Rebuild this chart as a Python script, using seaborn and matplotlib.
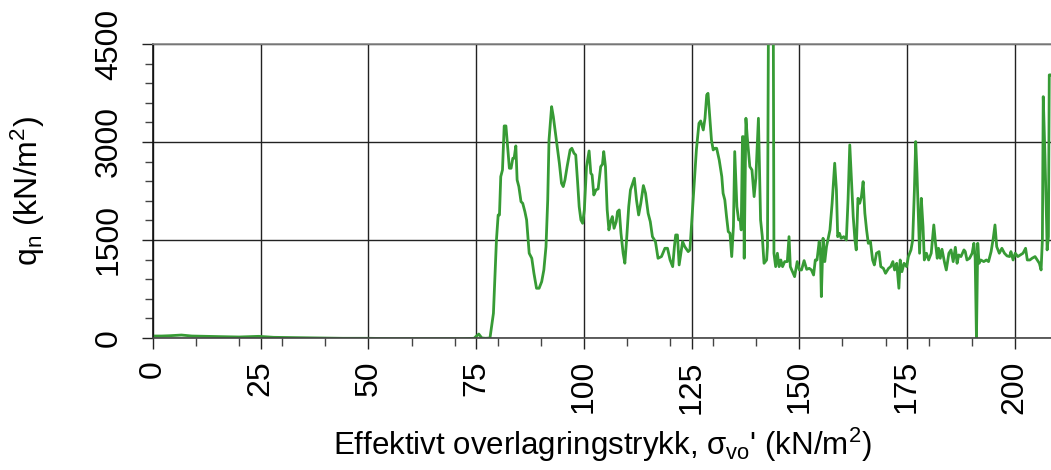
import matplotlib
matplotlib.use('agg')
import matplotlib.pyplot as plt
import seaborn as sns
import pandas as pd
from matplotlib.ticker import MultipleLocator

# effective overburden stress (kN/m2) and net cone resistance q_n (kN/m2)
sigma = [0, 2, 4, 6.6, 9, 12, 16, 20, 24.5, 28, 33, 38, 44, 50, 56, 62, 68, 72, 74.5,
         75.6, 76.3, 77.2, 78.2, 79.0, 79.7, 80.1, 80.4, 80.7, 81.1, 81.5, 81.9,
         82.7, 83.1, 83.5, 83.8, 84.2, 84.5, 84.9, 85.4, 85.8, 86.3, 86.7, 87.3,
         87.9, 88.4, 89.0, 89.6, 90.2, 90.7, 91.2, 91.6, 91.9, 92.5, 92.9, 93.7,
         94.3, 94.8, 95.2, 95.6, 96.1, 96.8, 97.2, 97.7, 98.1, 98.5, 98.9, 99.3,
         99.7, 100.1, 100.6, 101.2, 101.6, 101.9, 102.3, 102.8, 103.3, 103.9,
         104.3, 104.6, 105.0, 105.4, 105.8, 106.2, 106.6, 107.0, 107.5, 107.8,
         108.2, 108.6, 109.1, 109.5, 109.9, 110.4, 110.8, 111.3, 111.7, 112.2,
         112.7, 113.2, 113.8, 114.3, 114.9, 115.4, 115.9, 116.6, 117.2, 118.0,
         118.8, 119.4, 120.0, 120.6, 121.0, 121.3, 121.7, 122.1, 122.5, 122.9,
         123.4, 124.2, 124.6, 124.9, 125.5, 126.1, 126.7, 127.1, 127.7, 128.1,
         128.5, 128.8, 129.2, 129.6, 130.0, 130.4, 130.8, 131.4, 132.0, 132.3,
         132.7, 133.1, 133.5, 133.9, 134.3, 134.7, 135.0, 135.5, 135.9, 136.3,
         136.5, 136.8, 137.0, 137.2, 137.6, 137.9, 138.5, 139.0, 139.5, 139.9,
         140.5, 141.0, 141.4, 141.8, 142.4, 142.6, 142.9, 143.9, 144.1, 144.5,
         144.9, 145.3, 145.7, 146.1, 146.6, 147.2, 147.6, 147.9, 148.4, 148.9,
         149.5, 150.0, 150.5, 151.1, 151.7, 152.3, 152.8, 153.3, 153.7, 154.1,
         154.6, 154.9, 155.1, 155.5, 155.9, 156.3, 157.1, 157.6, 158.2, 158.6,
         158.9, 159.3, 159.7, 160.3, 160.9, 161.3, 161.7, 162.1, 162.5, 162.9,
         163.2, 163.6, 164.0, 164.4, 164.8, 165.2, 165.6, 166.0, 166.5, 167.0,
         167.4, 167.9, 168.5, 168.9, 169.5, 170.0, 170.7, 171.2, 171.7, 172.1,
         172.6, 173.1, 173.4, 173.8, 174.3, 174.9, 175.3, 175.9, 176.3, 176.7,
         177.0, 177.3, 177.7, 177.9, 178.3, 178.7, 179.0, 179.5, 180.0, 180.6,
         181.2, 181.6, 182.0, 182.3, 182.7, 183.1, 183.7, 184.1, 184.7, 185.2,
         185.7, 186.2, 186.6, 187.0, 187.5, 188.2, 188.5, 188.9, 189.5, 190.1,
         190.5, 190.8, 191.1, 191.4, 191.7, 192.1, 192.8, 193.4, 193.9, 194.5,
         195.0, 195.4, 195.8, 196.4, 197.0, 197.6, 198.2, 198.8, 199.1, 199.6,
         200.1, 200.7, 201.3, 201.9, 202.5, 202.9, 203.5, 204.0, 204.7, 205.2,
         205.7, 206.1, 206.4, 206.6, 207.0, 207.4, 207.5, 207.8, 208.0, 208.4]
qn = [30, 30, 35, 45, 30, 25, 20, 15, 25, 10, 5, 0, -5, -5, -10, -10, -10, -10, -5,
      60, 0, -5, 0, 378, 1500, 1883, 1883, 2470, 2572, 3246, 3246,
      2598, 2598, 2751, 2751, 2940, 2419, 2317, 2087, 2061, 1934, 1807, 1297,
      1220, 990, 761, 761, 862, 1041, 1398, 2113, 3031, 3541, 3388, 2981,
      2675, 2368, 2317, 2419, 2623, 2878, 2904, 2828, 2802, 2419, 2010, 1807,
      1756, 1960, 2623, 2863, 2521, 2496, 2189, 2266, 2282, 2623,
      2658, 2853, 2623, 1960, 1654, 1781, 1858, 1679, 1781, 1934,
      1960, 1603, 1297, 1144, 1500, 2010, 2266, 2368, 2445, 2113,
      1883, 2061, 2333, 2215, 1909, 1781, 1551, 1475, 1220, 1246,
      1373, 1373, 1194, 1092, 1398, 1577, 1577, 1118, 1297, 1475,
      1398, 1322, 1348, 1654, 2266, 2878, 3286, 3322, 3184, 3363,
      3720, 3745, 3388, 3031, 2878, 2904, 2904, 2725, 2470, 2215,
      2113, 1858, 1628, 1603, 1246, 1704, 2853, 2010, 1807, 1807,
      1654, 3082, 3082, 1220, 3363, 3082, 2623, 2572, 2164, 2445,
      3363, 1807, 1551, 1143, 1194, 1398, 6000, 6000, 1297, 1092,
      1297, 1092, 1194, 1092, 1169, 1169, 1551, 1092, 1015, 939,
      1169, 1041, 1041, 1184, 1051, 1066, 1041, 964, 1194, 1194,
      1475, 1297, 633, 1526, 1169, 1398, 1654, 2062, 2675, 2266,
      1551, 1603, 1526, 1551, 1500, 2113, 2955, 2419, 1858, 1500,
      1348, 2138, 2062, 2164, 2393, 1909, 1654, 1449, 1475, 1194,
      1118, 1297, 1322, 1092, 1066, 990, 1066, 1092, 1169, 1041,
      1143, 761, 1194, 1015, 1143, 1092, 1246, 1348, 1500, 2266,
      3006, 2521, 1704, 1297, 2138, 1704, 1194, 1297, 1194, 1297,
      1730, 1449, 1220, 1373, 1220, 1358, 1153, 1041, 1297, 1348,
      1169, 1388, 1143, 1271, 1246, 1348, 1322, 1194, 1220, 1297,
      1449, 1220, 0, 1449, 1143, 1194, 1169, 1194, 1169, 1322,
      1526, 1730, 1398, 1297, 1373, 1297, 1256, 1246, 1322, 1194,
      1297, 1246, 1271, 1297, 1373, 1194, 1194, 1220, 1246, 1194,
      1143, 1041, 1500, 3694, 2776, 1704, 1348, 1551, 4027, 4027]

df = pd.DataFrame({"sigma": sigma, "qn": qn})

sns.set_style("white", {"text.color": "black", "axes.labelcolor": "black",
                        "xtick.color": "black", "ytick.color": "black"})
plt.rcParams['font.family'] = ['Liberation Sans', 'DejaVu Sans']
plt.rcParams['mathtext.fontset'] = 'custom'
plt.rcParams['mathtext.rm'] = 'Liberation Sans'
plt.rcParams['mathtext.default'] = 'regular'

fig = plt.figure(figsize=(10.51, 4.70), dpi=100)
ax = fig.add_axes([0.1456, 0.2809, 0.8544, 0.6255])

sns.lineplot(data=df, x="sigma", y="qn", ax=ax, color="#379b35", linewidth=2.0,
             estimator=None, sort=False)

ax.set_xlim(0, 208.4)
ax.set_ylim(0, 4500)
ax.xaxis.set_major_locator(MultipleLocator(25))
ax.xaxis.set_minor_locator(MultipleLocator(10))
ax.yaxis.set_major_locator(MultipleLocator(1500))
ax.yaxis.set_minor_locator(MultipleLocator(300))

ax.grid(True, which="major", color="#222222", linewidth=1.0)
ax.set_axisbelow(True)

ax.tick_params(axis="both", which="major", direction="out", length=8, width=1,
               color="#222222", labelsize=23, labelcolor="black", bottom=True, left=True)
ax.tick_params(axis="both", which="minor", direction="out", length=6, width=1,
               color="#444444", bottom=True, left=True)
ax.tick_params(axis="x", which="major", pad=8, labelrotation=90)
ax.tick_params(axis="y", which="major", pad=13, labelrotation=90)
for lab in ax.get_yticklabels():
    lab.set_va("center")

for side in ["left", "bottom", "top"]:
    ax.spines[side].set_visible(True)
    ax.spines[side].set_linewidth(1.2)
ax.spines["left"].set_color("#111111")
ax.spines["bottom"].set_color("#444444")
ax.spines["top"].set_color("#888888")
ax.spines["right"].set_visible(False)

ax.set_xlabel("Effektivt overlagringstrykk, σ$_{\\mathregular{vo}}$' (kN/m$^{\\mathregular{2}}$)",
              fontsize=22.5, labelpad=9, color="black")
ax.set_ylabel("q$_{\\mathregular{n}}$ (kN/m$^{\\mathregular{2}}$)", fontsize=23,
              labelpad=34, color="black")

fig.savefig("out.png", dpi=100)
